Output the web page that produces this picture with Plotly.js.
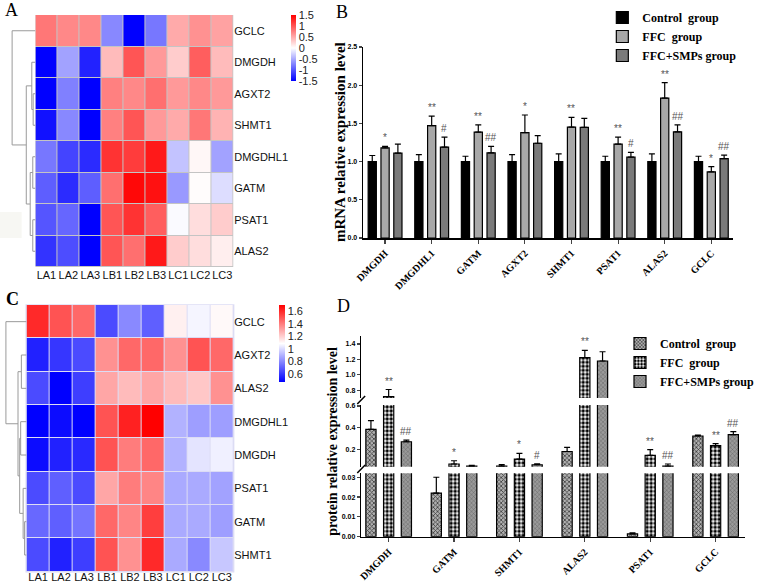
<!DOCTYPE html>
<html><head><meta charset="utf-8">
<script src="https://cdn.plot.ly/plotly-3.0.1.min.js"></script>
<style>html,body{margin:0;padding:0;background:#fff}#plot{width:759px;height:582px}</style>
</head><body><div id="plot"></div>
<script>
// ---------- Heatmap data ----------
const samples = ['LA1','LA2','LA3','LB1','LB2','LB3','LC1','LC2','LC3'];
const genesA = ['GCLC','DMGDH','AGXT2','SHMT1','DMGDHL1','GATM','PSAT1','ALAS2'];
const zA_GCLC    = [0.8,0.7,0.7,-0.7,-1.5,-0.8,0.5,0.65,0.55];
const zA_DMGDH   = [-1.5,-0.55,-1.3,0.4,1.0,0.6,0.3,0.95,0.4];
const zA_AGXT2   = [-1.5,-0.75,-1.5,0.75,0.7,0.85,0.6,0.7,0.6];
const zA_SHMT1   = [-1.4,-0.7,-1.5,0.75,1.0,0.6,0.5,0.8,0.45];
const zA_DMGDHL1 = [-0.8,-1.1,-1.25,1.2,1.15,1.35,-0.35,0.05,-0.55];
const zA_GATM    = [-0.95,-1.25,-0.95,0.85,1.45,1.4,-0.6,0.02,-0.2];
const zA_PSAT1   = [-1.0,-0.9,-1.5,1.0,1.2,0.95,-0.03,0.2,0.3];
const zA_ALAS2   = [-1.2,-1.05,-1.5,1.0,0.85,1.35,0.3,0.2,0.1];
const cbA_vals = [1.5,1,0.5,0,-0.5,-1,-1.5];
// dendrogram merges: [childA, childB, height]
const mergesA = [[2,3,2.3],[1,8,3.7],[4,5,2.7],[6,7,2.7],[10,11,5.3],[9,12,9.3],[0,13,23.7]];

const genesC = ['GCLC','AGXT2','ALAS2','DMGDHL1','DMGDH','PSAT1','GATM','SHMT1'];
const zC_GCLC    = [1.6,1.5,1.45,0.65,0.8,0.7,1.12,1.06,1.1];
const zC_AGXT2   = [0.55,0.6,0.65,1.35,1.45,1.45,1.35,1.5,1.45];
const zC_ALAS2   = [0.65,0.47,0.62,1.3,1.25,1.3,1.25,1.22,1.35];
const zC_DMGDHL1 = [0.47,0.5,0.47,1.5,1.62,1.7,0.9,0.85,0.85];
const zC_DMGDH   = [0.5,0.55,0.57,1.5,1.4,1.45,0.9,1.02,1.05];
const zC_PSAT1   = [0.65,0.7,0.65,1.3,1.4,1.38,0.88,0.88,0.86];
const zC_GATM    = [0.72,0.7,0.75,1.45,1.38,1.55,0.88,0.88,0.85];
const zC_SHMT1   = [0.65,0.55,0.62,1.5,1.35,1.6,0.88,0.8,0.95];
const cbC_vals = [1.6,1.4,1.2,1,0.8,0.6];
const mergesC = [[1,2,5.3],[3,4,6],[6,7,2],[5,10,3.5],[9,11,7],[8,12,8.7],[0,13,21]];

// ---------- Bar data (B: mRNA) ----------
const catsB = ['DMGDH','DMGDHL1','GATM','AGXT2','SHMT1','PSAT1','ALAS2','GCLC'];
const ctrlB = [1,1,1,1,1,1,1,1];
const ctrlBErr = [0.08,0.09,0.07,0.09,0.10,0.07,0.10,0.07];
const ffcB = [1.18,1.47,1.385,1.38,1.45,1.23,1.83,0.865];
const ffcBErr = [0.02,0.125,0.095,0.23,0.13,0.09,0.205,0.07];
const smpB = [1.11,1.19,1.115,1.24,1.447,1.058,1.39,1.04];
const smpBErr = [0.12,0.13,0.085,0.10,0.12,0.062,0.09,0.044];
const sigFfcB = ['*','**','**','*','**','**','**','*'];
const sigSmpB = ['','#','##','','','#','##','##'];

// ---------- Bar data (D: protein) ----------
const catsD = ['DMGDH','GATM','SHMT1','ALAS2','PSAT1','GCLC'];
const ctrlD = [0.385,0.022,0.046,0.18,0.0014,0.323];
const ctrlDErr = [0.08,0.008,0.014,0.038,0.0006,0.009];
const ffcD = [0.718,0.065,0.11,1.223,0.145,0.234];
const ffcDErr = [0.092,0.03,0.053,0.095,0.052,0.018];
const smpD = [0.27,0.046,0.058,1.18,0.046,0.335];
const smpDErr = [0.016,0.006,0.008,0.12,0.019,0.028];
const sigFfcD = ['**','*','*','**','**','**'];
const sigSmpD = ['##','','#','','##','##'];

const groupNames = ['Control\u00a0 group','FFC\u00a0 group','FFC+SMPs group'];

// ---------- helpers ----------
const W=759, H=582;
const fx = p => p/W, fy = p => 1 - p/H;
const idx = n => Array.from({length:n},(_,i)=>i);
const zeros = n => new Array(n).fill(0);
const bwr = [[0,'#0000ff'],[0.5,'#ffffff'],[1,'#ff0000']];

function dendro(merges, n){
  const pos = idx(n).map(i=>({y:i,h:0}));
  const xs=[], ys=[];
  merges.forEach(m=>{
    const a=pos[m[0]], b=pos[m[1]], h=m[2];
    xs.push(a.h,h,h,b.h,null); ys.push(a.y,a.y,b.y,b.y,null);
    pos.push({y:(a.y+b.y)/2,h:h});
  });
  return {xs,ys};
}

const traces=[];
const sansFont = {family:'Liberation Sans, Arial', size:11, color:'#111'};

// Heatmap A
traces.push({type:'heatmap', xaxis:'x', yaxis:'y', x:idx(9), y:idx(8),
  z:[zA_GCLC,zA_DMGDH,zA_AGXT2,zA_SHMT1,zA_DMGDHL1,zA_GATM,zA_PSAT1,zA_ALAS2],
  colorscale:bwr, zmin:-1.5, zmax:1.5, xgap:1, ygap:1, hoverinfo:'skip',
  colorbar:{x:fx(296), xanchor:'left', y:fy(15), yanchor:'top', len:66/H, lenmode:'fraction',
    thickness:5, outlinewidth:0, xpad:0, ypad:0, ticks:'', tickvals:cbA_vals,
    ticktext:cbA_vals.map(String), tickfont:{family:'Liberation Sans, Arial', size:11, color:'#222'}}});
const dA = dendro(mergesA, 8);
traces.push({type:'scatter', mode:'lines', xaxis:'x6', yaxis:'y', x:dA.xs, y:dA.ys,
  line:{color:'#9a9a9a', width:1}, hoverinfo:'skip', showlegend:false});

// Heatmap C
traces.push({type:'heatmap', xaxis:'x2', yaxis:'y2', x:idx(9), y:idx(8),
  z:[zC_GCLC,zC_AGXT2,zC_ALAS2,zC_DMGDHL1,zC_DMGDH,zC_PSAT1,zC_GATM,zC_SHMT1],
  colorscale:bwr, zmin:0.47, zmax:1.7, xgap:1, ygap:1, hoverinfo:'skip',
  colorbar:{x:fx(283), xanchor:'left', y:fy(305), yanchor:'top', len:77/H, lenmode:'fraction',
    thickness:6, outlinewidth:0, xpad:0, ypad:0, ticks:'', tickvals:cbC_vals,
    ticktext:cbC_vals.map(String), tickfont:{family:'Liberation Sans, Arial', size:11, color:'#222'}}});
const dC = dendro(mergesC, 8);
traces.push({type:'scatter', mode:'lines', xaxis:'x7', yaxis:'y2', x:dC.xs, y:dC.ys,
  line:{color:'#9a9a9a', width:1}, hoverinfo:'skip', showlegend:false});

// Bars B
const slotB = 0.275, widthB = 0.176;
const colorsB = ['#000000','#a8a8a8','#7a7a7a'];
[[ctrlB,ctrlBErr],[ffcB,ffcBErr],[smpB,smpBErr]].forEach((s,k)=>{
  traces.push({type:'bar', xaxis:'x3', yaxis:'y3', x:idx(catsB.length), y:s[0],
    width:widthB, offset:(k-1)*slotB - widthB/2, name:groupNames[k], legend:'legend',
    marker:{color:colorsB[k], line:{color:'#000', width:1.2}},
    error_y:{type:'data', array:s[1], arrayminus:zeros(s[1].length), symmetric:false,
      color:'#000', thickness:1.2, width:3}, hoverinfo:'skip'});
});

// Bars D (broken axis: three segments)
const slotD = 0.271, widthD = 0.156;
const patD = [
  {shape:'x', size:3, solidity:0.45, fgcolor:'#3a3a3a', bgcolor:'#b0b0b0', fillmode:'replace'},
  {shape:'.', size:4, solidity:0.55, fgcolor:'#000000', bgcolor:'#ffffff', fillmode:'replace'},
  {shape:'x', size:3, solidity:0.25, fgcolor:'#5a5a5a', bgcolor:'#9a9a9a', fillmode:'replace'}
];
const colD = ['#808080','#ffffff','#8a8a8a'];
['y4','y5','y6'].forEach((ya,ai)=>{
  [[ctrlD,ctrlDErr],[ffcD,ffcDErr],[smpD,smpDErr]].forEach((s,k)=>{
    traces.push({type:'bar', xaxis:'x4', yaxis:ya, x:idx(catsD.length), y:s[0],
      width:widthD, offset:(k-1)*slotD - widthD/2, name:groupNames[k], legend:'legend2',
      showlegend: ai===0,
      marker:{color:colD[k], pattern:patD[k], line:{color:'#000', width:1.2}},
      error_y:{type:'data', array:s[1], arrayminus:zeros(s[1].length), symmetric:false,
        color:'#000', thickness:1.2, width:3}, hoverinfo:'skip'});
  });
});

// ---------- annotations ----------
const serif = 'Liberation Serif, Times New Roman';
const ann = [];
function panelLetter(t,x,y,bold){ann.push({text:t,xref:'paper',yref:'paper',x:fx(x),y:fy(y),
  xanchor:'center', yanchor:'middle',
  showarrow:false,font:{family:serif,size:18,color:'#000',weight:bold?'bold':'normal'}});}
panelLetter('A',12,10,false); panelLetter('B',348,12,false);
panelLetter('C',13,299,true); panelLetter('D',349,306,false);
ann.push({text:'mRNA relative expression level', xref:'paper', yref:'paper', x:fx(345), y:fy(142.5),
  xanchor:'center', yanchor:'middle',
  textangle:-90, showarrow:false, font:{family:serif, size:15, weight:'bold', color:'#000'}});
ann.push({text:'protein relative expression level', xref:'paper', yref:'paper', x:fx(337), y:fy(441),
  xanchor:'center', yanchor:'middle',
  textangle:-90, showarrow:false, font:{family:serif, size:14, weight:'bold', color:'#000'}});
const sigFont = {family:'Liberation Sans, Arial', size:10, color:'#555'};
function sig(text, x, y, xr, yr){ if(!text) return;
  ann.push({text, x, y, xref:xr, yref:yr, xanchor:'center', yanchor:'bottom', yshift:1, showarrow:false, font:sigFont});}
catsB.forEach((c,i)=>{
  sig(sigFfcB[i], i, ffcB[i]+ffcBErr[i], 'x3','y3');
  sig(sigSmpB[i], i+slotB, smpB[i]+smpBErr[i], 'x3','y3');
});
const segOf = v => v<=0.032 ? 'y4' : (v<=0.61 ? 'y5' : 'y6');
catsD.forEach((c,i)=>{
  const a = ffcD[i]+ffcDErr[i], b = smpD[i]+smpDErr[i];
  sig(sigFfcD[i], i, a, 'x4', segOf(a));
  sig(sigSmpD[i], i+slotD, b, 'x4', segOf(b));
});

// ---------- axes ----------
const heatX = (dom, anchor, standoff) => ({domain:dom, anchor, range:[-0.5,8.5], tickvals:idx(9), ticktext:samples,
  tickangle:0, ticklabelstandoff:standoff,
  showgrid:false, zeroline:false, showline:false, ticks:'', tickfont:sansFont, fixedrange:true});
const heatY = (dom, anchor, genes) => ({domain:dom, anchor, range:[7.5,-0.5], tickvals:idx(8), ticktext:genes,
  side:'right', showgrid:false, zeroline:false, showline:false, ticks:'', tickfont:sansFont, fixedrange:true});
const tickSmall = {family:'Liberation Sans, Arial', size:7, color:'#000', weight:'bold'};
const catFont = {family:serif, size:10, color:'#000', weight:'bold'};
const yBar = (dom, range, vals, fmt) => ({domain:dom, anchor:'x4', range, tickvals:vals, tickformat:fmt,
  ticks:'outside', ticklen:3, tickwidth:1.2, showline:true, linecolor:'#000', linewidth:1.5,
  showgrid:false, zeroline:false, tickfont:tickSmall});
const legFont = {family:serif, size:12, color:'#000', weight:'bold'};

const layout = {
  width:W, height:H, margin:{l:0,r:0,t:0,b:0}, paper_bgcolor:'#fff', plot_bgcolor:'rgba(0,0,0,0)',
  showlegend:true,
  xaxis: heatX([fx(36),fx(237)], 'y', 0),
  yaxis: heatY([fy(267),fy(15)], 'x', genesA),
  xaxis2: heatX([fx(27),fx(237)], 'y2', -3),
  yaxis2: heatY([fy(571.7),fy(305)], 'x2', genesC),
  xaxis6: {domain:[0,fx(36)], anchor:'y', range:[36,0], visible:false, fixedrange:true},
  xaxis7: {domain:[0,fx(27)], anchor:'y2', range:[27,0], visible:false, fixedrange:true},
  xaxis3: {domain:[fx(369),fx(745)], anchor:'y3', range:[-0.47,7.47], tickvals:idx(8), ticktext:catsB,
    tickangle:-45, ticks:'outside', ticklen:4, tickwidth:1.2, showline:true, linecolor:'#000', linewidth:1.5,
    showgrid:false, zeroline:false, tickfont:catFont},
  yaxis3: {domain:[fy(238),fy(47)], anchor:'x3', range:[0,2.5], tickvals:[0,0.5,1,1.5,2,2.5], tickformat:'.1f',
    ticks:'outside', ticklen:3, tickwidth:1.2, showline:true, linecolor:'#000', linewidth:1.5,
    showgrid:false, zeroline:false, tickfont:tickSmall},
  xaxis4: {domain:[fx(367),fx(757)], anchor:'y4', range:[-0.42,5.45], tickvals:idx(6), ticktext:catsD,
    tickangle:-45, ticks:'outside', ticklen:4, tickwidth:1.2, showline:true, linecolor:'#000', linewidth:1.5,
    showgrid:false, zeroline:false, tickfont:catFont},
  yaxis4: yBar([fy(536.7),fy(473.3)], [0,0.032], [0,0.01,0.02,0.03], '.2f'),
  yaxis5: yBar([fy(466.7),fy(404.9)], [0.04,0.61], [0.2,0.4,0.6], '.1f'),
  yaxis6: yBar([fy(398),fy(336.3)], [0.7,1.5], [0.8,1.0,1.2,1.4], '.1f'),
  legend: {x:fx(612), y:fy(3), xanchor:'left', yanchor:'top', bgcolor:'rgba(0,0,0,0)', itemwidth:30,
    tracegroupgap:0, font:legFont},
  legend2: {x:fx(630), y:fy(329), xanchor:'left', yanchor:'top', bgcolor:'rgba(0,0,0,0)', itemwidth:30,
    tracegroupgap:0, font:legFont},
  annotations: ann,
  shapes: [
    {type:'rect', xref:'paper', yref:'paper', x0:fx(36), x1:fx(237), y0:fy(267), y1:fy(15),
      fillcolor:'#c4c4c4', line:{width:0}, layer:'below'},
    {type:'rect', xref:'paper', yref:'paper', x0:fx(27)-0.0015, x1:fx(237)+0.0015, y0:fy(572.5), y1:fy(304.2),
      fillcolor:'#dcdcf4', line:{width:0}, layer:'below'},
    {type:'rect', xref:'paper', yref:'paper', x0:0, x1:fx(22), y0:fy(238), y1:fy(212),
      fillcolor:'#f7f7f3', line:{width:0}, layer:'below'},
    {type:'line', xref:'paper', yref:'paper', x0:fx(363), y0:fy(404), x1:fx(371), y1:fy(396), line:{color:'#000',width:1.5}},
    {type:'line', xref:'paper', yref:'paper', x0:fx(363), y0:fy(473), x1:fx(371), y1:fy(465), line:{color:'#000',width:1.5}}
  ]
};

Plotly.newPlot('plot', traces, layout, {staticPlot:true, displayModeBar:false});
</script></body></html>
